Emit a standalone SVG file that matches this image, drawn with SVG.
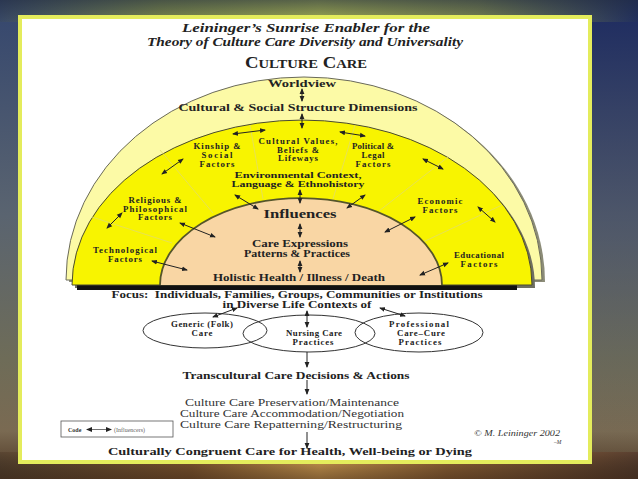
<svg xmlns="http://www.w3.org/2000/svg" width="638" height="479" viewBox="0 0 638 479">
<defs>
<linearGradient id="bgv" x1="0" y1="0" x2="0" y2="1">
<stop offset="0" stop-color="#34466e"/>
<stop offset="0.45" stop-color="#5a6470"/>
<stop offset="0.75" stop-color="#6e6c58"/>
<stop offset="0.9" stop-color="#7a6a52"/>
<stop offset="1" stop-color="#4a3220"/>
</linearGradient>
<linearGradient id="bgr" x1="0" y1="0" x2="0" y2="1">
<stop offset="0" stop-color="#1c2a60"/>
<stop offset="0.5" stop-color="#4a5266" stop-opacity="0.6"/>
<stop offset="1" stop-color="#6e6c58" stop-opacity="0"/>
</linearGradient>
<linearGradient id="topband" x1="0" y1="0" x2="1" y2="0">
<stop offset="0" stop-color="#3a4a66"/>
<stop offset="0.25" stop-color="#7d8a4c"/>
<stop offset="0.5" stop-color="#a2ae52"/>
<stop offset="0.75" stop-color="#7a8450"/>
<stop offset="1" stop-color="#22305e"/>
</linearGradient>
<linearGradient id="topfade" x1="0" y1="0" x2="0" y2="1">
<stop offset="0" stop-color="#1e2840" stop-opacity="0.55"/>
<stop offset="1" stop-color="#1e2840" stop-opacity="0"/>
</linearGradient>
<linearGradient id="bot" x1="0" y1="0" x2="1" y2="0">
<stop offset="0" stop-color="#5a4632"/>
<stop offset="0.3" stop-color="#8a5e34"/>
<stop offset="0.5" stop-color="#e0a858"/>
<stop offset="0.7" stop-color="#9a6a3a"/>
<stop offset="1" stop-color="#5a4030"/>
</linearGradient>
<linearGradient id="botv" x1="0" y1="0" x2="0" y2="1">
<stop offset="0" stop-color="#000" stop-opacity="0"/>
<stop offset="1" stop-color="#2a1a10" stop-opacity="0.5"/>
</linearGradient>
<marker id="ah" markerUnits="userSpaceOnUse" markerWidth="6" markerHeight="6" refX="5" refY="3" orient="auto-start-reverse">
<path d="M0,0.6 L6,3 L0,5.4 z" fill="#222"/>
</marker>
<style>
.t{font-family:"Liberation Serif","Times New Roman",serif;font-weight:bold;fill:#222;text-anchor:middle}
.r{font-family:"Liberation Serif","Times New Roman",serif;fill:#333;text-anchor:middle}
.s{font-size:8.8px}
.m{font-size:10px}
.a{stroke:#222;stroke-width:1;fill:none;marker-start:url(#ah);marker-end:url(#ah)}
.d{stroke:#222;stroke-width:1;fill:none;marker-end:url(#ah)}
.rad{stroke:#e2dc6a;stroke-width:0.8;fill:none}
.ell{fill:none;stroke:#333;stroke-width:1}
</style>
</defs>

<!-- background -->
<rect x="0" y="0" width="638" height="479" fill="url(#bgv)"/>
<rect x="560" y="0" width="78" height="479" fill="url(#bgr)"/>
<rect x="0" y="0" width="638" height="22" fill="url(#topband)"/>
<rect x="0" y="0" width="638" height="22" fill="url(#topfade)"/>
<rect x="0" y="452" width="638" height="27" fill="url(#bot)"/>
<rect x="0" y="452" width="638" height="27" fill="url(#botv)"/>

<!-- panel -->
<rect x="20" y="17" width="570" height="445" fill="#ffffff" stroke="#e4ec5c" stroke-width="4"/>

<!-- title -->
<g id="title">
<text x="306" y="32" class="t" font-style="italic" font-size="13.5" textLength="248" lengthAdjust="spacingAndGlyphs">Leininger’s Sunrise Enabler for the</text>
<text x="305" y="46" class="t" font-style="italic" font-size="13.5" textLength="316" lengthAdjust="spacingAndGlyphs">Theory of Culture Care Diversity and Universality</text>
<text x="306" y="68" class="t" font-size="16" textLength="122" lengthAdjust="spacingAndGlyphs">C<tspan font-size="12.5">ULTURE</tspan> C<tspan font-size="12.5">ARE</tspan></text>
</g>

<!-- sunrise shapes -->
<g id="sunrise">
<path d="M69 282 A238 203 0 0 1 545 282 Z" fill="#8c8c78"/>
<path d="M66 280 A238 203 0 0 1 542 280 Z" fill="#fcfaa6" stroke="#6a6a5a" stroke-width="1"/>
<path d="M75 288 A230 165 0 0 1 535 288 Z" fill="#6e6e60"/>
<rect x="77" y="285" width="440" height="5" fill="#111"/>
<path d="M72 285 A230 165 0 0 1 532 285 Z" fill="#f8f400" stroke="#4a4a30" stroke-width="1"/>
<line class="rad" x1="92" y1="217" x2="172" y2="243"/>
<line class="rad" x1="160" y1="150" x2="213" y2="213"/>
<line class="rad" x1="250" y1="125" x2="263" y2="199"/>
<line class="rad" x1="355" y1="125" x2="333" y2="199"/>
<line class="rad" x1="448" y1="157" x2="379" y2="211"/>
<line class="rad" x1="502" y1="205" x2="423" y2="242"/>
<path d="M160 285 A141 87 0 0 1 442 285" fill="#f9d6a4" stroke="#55552a" stroke-width="1.8"/>
</g>

<g id="worldview"><text x="302" y="87" class="t m" textLength="68" lengthAdjust="spacingAndGlyphs">Worldview</text></g>
<g id="cultural-social"><text x="298" y="111" class="t" font-size="10.5" textLength="239" lengthAdjust="spacingAndGlyphs">Cultural &amp; Social Structure Dimensions</text></g>
<g id="kinship" class="t s">
<text x="217" y="149" textLength="47" lengthAdjust="spacing">Kinship &amp;</text>
<text x="217" y="158" textLength="31" lengthAdjust="spacing">Social</text>
<text x="217" y="167" textLength="35" lengthAdjust="spacing">Factors</text>
</g>
<g id="values" class="t s">
<text x="298" y="144" textLength="79" lengthAdjust="spacing">Cultural Values,</text>
<text x="298" y="152.5" textLength="42" lengthAdjust="spacing">Beliefs &amp;</text>
<text x="298" y="161" textLength="40" lengthAdjust="spacing">Lifeways</text>
</g>
<g id="political" class="t s">
<text x="373" y="149" textLength="42" lengthAdjust="spacing">Political &amp;</text>
<text x="373" y="158" textLength="23" lengthAdjust="spacing">Legal</text>
<text x="373" y="167" textLength="35" lengthAdjust="spacing">Factors</text>
</g>
<g id="environment" class="t s">
<text x="298" y="178" textLength="127" lengthAdjust="spacingAndGlyphs">Environmental Context,</text>
<text x="298" y="187" textLength="133" lengthAdjust="spacingAndGlyphs">Language &amp; Ethnohistory</text>
</g>
<g id="religious" class="t s">
<text x="155" y="203" textLength="53" lengthAdjust="spacing">Religious &amp;</text>
<text x="155" y="211.5" textLength="64" lengthAdjust="spacing">Philosophical</text>
<text x="155" y="220" textLength="34" lengthAdjust="spacing">Factors</text>
</g>
<g id="economic" class="t s">
<text x="440" y="204" textLength="45" lengthAdjust="spacing">Economic</text>
<text x="440" y="213" textLength="35" lengthAdjust="spacing">Factors</text>
</g>
<g id="technological" class="t s">
<text x="125" y="253" textLength="64" lengthAdjust="spacing">Technological</text>
<text x="125" y="262" textLength="34" lengthAdjust="spacing">Factors</text>
</g>
<g id="educational" class="t s">
<text x="479" y="258" textLength="50" lengthAdjust="spacing">Educational</text>
<text x="479" y="267" textLength="37" lengthAdjust="spacing">Factors</text>
</g>
<g id="influences"><text x="300" y="218" class="t" font-size="13" textLength="73" lengthAdjust="spacingAndGlyphs">Influences</text></g>
<g id="care-expressions" class="t m">
<text x="300" y="247" textLength="96" lengthAdjust="spacingAndGlyphs">Care Expressions</text>
<text x="297" y="257" textLength="106" lengthAdjust="spacingAndGlyphs">Patterns &amp; Practices</text>
</g>
<g id="holistic"><text x="299" y="281" class="t" font-size="9.5" textLength="172" lengthAdjust="spacingAndGlyphs">Holistic Health / Illness / Death</text></g>

<g id="focus" class="t" font-size="9.5">
<text x="297" y="298" textLength="371" lengthAdjust="spacingAndGlyphs" style="white-space:pre">Focus:  Individuals, Families, Groups, Communities or Institutions</text>
<text x="297" y="308" textLength="149" lengthAdjust="spacingAndGlyphs">in Diverse Life Contexts of</text>
</g>

<g id="generic">
<ellipse class="ell" cx="205" cy="330.5" rx="62" ry="17.5"/>
<text x="202" y="327" class="t s" textLength="62" lengthAdjust="spacing">Generic (Folk)</text>
<text x="202" y="336" class="t s" textLength="21" lengthAdjust="spacing">Care</text>
</g>
<g id="nursing">
<ellipse class="ell" cx="309" cy="333.5" rx="66" ry="18.5"/>
<text x="314" y="336" class="t s" textLength="56" lengthAdjust="spacing">Nursing Care</text>
<text x="313" y="345" class="t s" textLength="41" lengthAdjust="spacing">Practices</text>
</g>
<g id="professional">
<ellipse class="ell" cx="419" cy="332.5" rx="64" ry="19.5"/>
<text x="419" y="327" class="t s" textLength="60" lengthAdjust="spacing">Professional</text>
<text x="421" y="336" class="t s" textLength="48" lengthAdjust="spacing">Care–Cure</text>
<text x="420" y="345" class="t s" textLength="43" lengthAdjust="spacing">Practices</text>
</g>

<g id="transcultural"><text x="296" y="379" class="t" font-size="10.5" textLength="227" lengthAdjust="spacingAndGlyphs">Transcultural Care Decisions &amp; Actions</text></g>
<g id="modes" class="r" font-size="11">
<text x="292" y="406" textLength="214" lengthAdjust="spacingAndGlyphs">Culture Care Preservation/Maintenance</text>
<text x="292" y="417" textLength="224" lengthAdjust="spacingAndGlyphs">Culture Care Accommodation/Negotiation</text>
<text x="291" y="428" textLength="222" lengthAdjust="spacingAndGlyphs">Culture Care Repatterning/Restructuring</text>
</g>
<g id="congruent"><text x="290" y="455" class="t" font-size="10.5" textLength="364" lengthAdjust="spacingAndGlyphs">Culturally Congruent Care for Health, Well-being or Dying</text></g>

<g id="code">
<rect x="61" y="421" width="112" height="16" fill="#fff" stroke="#555" stroke-width="0.8"/>
<text x="68" y="431.5" font-family="Liberation Serif, serif" font-weight="bold" font-size="6" fill="#333">Code</text>
<line x1="87" y1="429.5" x2="111" y2="429.5" stroke="#333" stroke-width="0.7" marker-start="url(#ah)" marker-end="url(#ah)"/>
<text x="114" y="431.5" font-family="Liberation Serif, serif" font-size="6" fill="#666">(Influencers)</text>
</g>
<g id="copyright">
<text x="474" y="436" font-family="Liberation Serif, serif" font-style="italic" font-size="8.5" fill="#333" textLength="86" lengthAdjust="spacingAndGlyphs">© M. Leininger 2002</text>
<text x="554" y="444" font-family="Liberation Serif, serif" font-style="italic" font-size="5.5" fill="#333">–M</text>
</g>

<g id="connectors">
<line class="a" x1="302" y1="89" x2="302" y2="101"/>
<line class="a" x1="302" y1="114" x2="302" y2="128"/>
<line class="a" x1="233" y1="134" x2="265" y2="130"/>
<line class="a" x1="340" y1="132" x2="365" y2="136"/>
<line class="a" x1="162" y1="174" x2="183" y2="159"/>
<line class="a" x1="423" y1="159" x2="443" y2="169"/>
<line class="a" x1="235" y1="195" x2="258" y2="209"/>
<line class="a" x1="365" y1="195" x2="347" y2="208"/>
<line class="a" x1="300" y1="190" x2="300" y2="203"/>
<line class="a" x1="300" y1="224" x2="300" y2="237"/>
<line class="a" x1="300" y1="261" x2="300" y2="272"/>
<line class="a" x1="107" y1="228" x2="122" y2="213"/>
<line class="a" x1="180" y1="223" x2="215" y2="237"/>
<line class="a" x1="152" y1="261" x2="187" y2="270"/>
<line class="a" x1="415" y1="217" x2="385" y2="232"/>
<line class="a" x1="478" y1="207" x2="495" y2="222"/>
<line class="a" x1="448" y1="263" x2="420" y2="275"/>
<line class="a" x1="237" y1="308" x2="213" y2="317"/>
<line class="a" x1="307" y1="311" x2="307" y2="327"/>
<line class="a" x1="380" y1="308" x2="405" y2="316"/>
<line class="d" x1="307" y1="352" x2="307" y2="367"/>
<line class="d" x1="307" y1="380" x2="307" y2="394"/>
<line class="d" x1="307" y1="432" x2="307" y2="448"/>
</g>
</svg>
